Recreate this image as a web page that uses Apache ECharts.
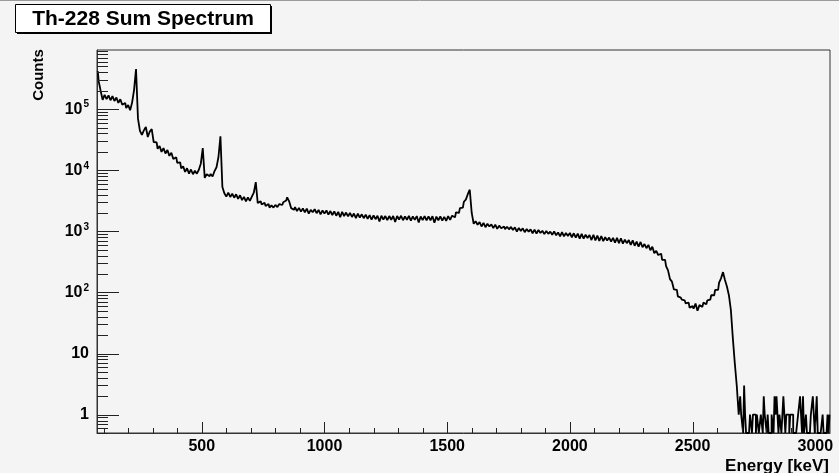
<!DOCTYPE html>
<html>
<head>
<meta charset="utf-8">
<script src="https://cdn.jsdelivr.net/npm/echarts@6/dist/echarts.min.js"></script>
<style>html,body{margin:0;padding:0;background:#f4f4f4;}#chart{width:839px;height:473px;}</style>
</head>
<body>
<div id="chart"></div>
<script>
// ---- Data ----
const titleText = 'Th-228 Sum Spectrum';
const xTitle = 'Energy [keV]';
const yTitle = 'Counts';

// Main spectrum: 8 keV bins, first bin centre 76 keV
const mainStart = 76;
const mainWidth = 8;
const mainCounts = [
  /* 76 */ 420000, 285000, 198000, 142000, 172000, 146000, 168000, 140000, 163000, 136000,
  /* 156 */ 155000, 127000, 145000, 118000, 126000, 104000, 117000, 96000, 128000, 205000,
  /* 236 */ 455000, 70000, 44000, 38000, 45000, 51000, 35000, 43000, 47000, 29000,
  /* 316 */ 28500, 22500, 25000, 20000, 23000, 18800, 21500, 17200, 19300, 15300,
  /* 396 */ 16300, 13200, 13500, 10700, 11600, 9400, 10800, 8800, 10300, 8600,
  /* 476 */ 9800, 8800, 10200, 12800, 23000, 7500, 8600, 8000, 8700, 7900,
  /* 556 */ 9700, 11200, 16500, 36000, 5300, 4200, 3700, 4300, 3650, 4150,
  /* 636 */ 3550, 4050, 3400, 3900, 3250, 3650, 3100, 3600, 3150, 3700,
  /* 716 */ 4300, 6400, 2900, 3100, 2750, 2950, 2600, 2800, 2450, 2650,
  /* 796 */ 2450, 2700, 2500, 2800, 2700, 3000, 3200, 3600, 3100, 2400,
  /* 876 */ 2250, 2500, 2150, 2420, 2100, 2380, 2050, 2350, 1950, 2250,
  /* 956 */ 2050, 2300, 1980, 2250, 1900, 2200, 1950, 2200, 1880, 2150,
  /* 1036 */ 1850, 2120, 1800, 2080, 1700, 2080, 1780, 2030, 1760, 2000,
  /* 1116 */ 1720, 1960, 1650, 1950, 1680, 1900, 1640, 1880, 1600, 1840,
  /* 1196 */ 1560, 1820, 1580, 1800, 1450, 1800, 1560, 1780, 1520, 1780,
  /* 1276 */ 1550, 1780, 1420, 1780, 1560, 1800, 1520, 1760, 1550, 1790,
  /* 1356 */ 1500, 1760, 1540, 1780, 1400, 1750, 1530, 1770, 1510, 1760,
  /* 1436 */ 1520, 1770, 1380, 1740, 1520, 1760, 1500, 1730, 1480, 1770,
  /* 1516 */ 1540, 1800, 1700, 2050, 2000, 2400, 2450, 3050, 3300, 4050,
  /* 1596 */ 4800, 2000, 1330, 1460, 1280, 1420, 1200, 1380, 1170, 1330,
  /* 1676 */ 1200, 1300, 1130, 1290, 1100, 1240, 1120, 1200, 1090, 1190,
  /* 1756 */ 1080, 1180, 1050, 1160, 990, 1140, 1010, 1120, 970, 1090,
  /* 1836 */ 990, 1080, 930, 1070, 920, 1050, 940, 1020, 900, 1010,
  /* 1916 */ 910, 990, 880, 1000, 860, 960, 830, 970, 830, 940,
  /* 1996 */ 840, 940, 800, 930, 790, 920, 760, 910, 760, 880,
  /* 2076 */ 780, 870, 720, 880, 710, 850, 700, 840, 690, 800,
  /* 2156 */ 710, 790, 680, 780, 650, 780, 640, 770, 630, 730,
  /* 2236 */ 640, 720, 600, 710, 580, 680, 560, 670, 550, 620,
  /* 2316 */ 530, 600, 490, 560, 440, 480, 410, 430, 340, 340,
  /* 2396 */ 270, 230, 165, 150, 112, 110, 86, 82, 76, 74,
  /* 2476 */ 66, 68, 56, 60, 54, 66, 50, 62, 58, 68,
  /* 2556 */ 64, 74, 76, 90, 90, 110, 110, 145, 170, 215,
  /* 2636 */ 160, 125, 90, 52, 18, 7, 3
];

// Tail above the 2614 keV edge: 4 keV bins, first bin centre 2692 keV
const tailStart = 2692;
const tailWidth = 4;
const tailCounts = [
  1, 2, 1, 1, 0, 3, 1, 0, 0, 0,
  0, 1, 1, 0, 1, 1, 1, 0, 1, 1,
  0, 0, 1, 1, 0, 2, 1, 1, 0, 1,
  0, 0, 0, 1, 1, 0, 2, 1, 2, 1,
  0, 1, 1, 0, 1, 2, 1, 0, 1, 1,
  1, 0, 1, 1, 1, 0, 0, 0, 0, 0,
  1, 1, 2, 1, 0, 2, 0, 0, 1, 0,
  0, 0, 0, 1, 1, 2, 1, 0, 1, 2,
  0, 0, 0, 0, 0, 1, 0, 0, 0, 0,
  1, 0, 1
];

// Axis ranges and ticks
const xMin = 73, xMax = 3060;
const yMin = 0.5, yMax = 930000;
const xMajorTicks = [500, 1000, 1500, 2000, 2500, 3000];
const xMinorTicks = [100, 200, 300, 400, 600, 700, 800, 900, 1100, 1200, 1300, 1400, 1600, 1700, 1800, 1900,
  2100, 2200, 2300, 2400, 2600, 2700, 2800, 2900];
const yMajorTicks = [1, 10, 100, 1000, 10000, 100000];
const yMinorTicks = [0.5, 0.6, 0.7, 0.8, 0.9,
  2, 3, 4, 5, 6, 7, 8, 9,
  20, 30, 40, 50, 60, 70, 80, 90,
  200, 300, 400, 500, 600, 700, 800, 900,
  2000, 3000, 4000, 5000, 6000, 7000, 8000, 9000,
  20000, 30000, 40000, 50000, 60000, 70000, 80000, 90000,
  200000, 300000, 400000, 500000, 600000, 700000, 800000, 900000];

// ---- Build series data ----
const spectrum = [];
mainCounts.forEach((c, i) => spectrum.push([mainStart + i * mainWidth, Math.max(c, yMin)]));
tailCounts.forEach((c, i) => spectrum.push([tailStart + i * tailWidth, Math.max(c, yMin)]));

const tickColor = '#222';
function xTickSeries(ticks, len) {
  return {
    type: 'custom', silent: true, clip: false, z: 5,
    data: ticks.map(v => [v, yMin]),
    encode: { x: 0, y: 1 },
    renderItem: (params, api) => {
      const p = api.coord([api.value(0), yMin]);
      const x = Math.round(p[0]) + 0.5;
      return { type: 'line', shape: { x1: x, y1: p[1], x2: x, y2: p[1] - len },
        style: { stroke: tickColor, lineWidth: 1 } };
    }
  };
}
function yTickSeries(ticks, len) {
  return {
    type: 'custom', silent: true, clip: false, z: 5,
    data: ticks.map(v => [xMin, v]),
    encode: { x: 0, y: 1 },
    renderItem: (params, api) => {
      const p = api.coord([xMin, api.value(1)]);
      const y = Math.round(p[1]) + 0.5;
      return { type: 'line', shape: { x1: p[0], y1: y, x2: p[0] + len, y2: y },
        style: { stroke: tickColor, lineWidth: 1 } };
    }
  };
}

const chart = echarts.init(document.getElementById('chart'), null, { renderer: 'canvas' });
chart.setOption({
  animation: false,
  backgroundColor: '#f4f4f4',
  grid: { left: 97, right: 9, top: 50, bottom: 40, show: true, borderColor: '#333', borderWidth: 1, backgroundColor: 'transparent' },
  xAxis: {
    type: 'value', min: xMin, max: xMax, splitNumber: 6,
    axisLine: { show: true, lineStyle: { color: '#333', width: 1 } },
    axisTick: { show: false }, splitLine: { show: false },
    axisLabel: {
      color: '#000', fontFamily: 'Liberation Sans, Arial, sans-serif', fontWeight: 'bold', fontSize: 16, margin: 6,
      formatter: v => (xMajorTicks.indexOf(Math.round(v)) >= 0 && Math.abs(v - Math.round(v)) < 1e-6) ? String(Math.round(v)) : ''
    }
  },
  yAxis: {
    type: 'log', logBase: 10, min: yMin, max: yMax,
    axisLine: { show: true, lineStyle: { color: '#333', width: 1 } },
    axisTick: { show: false }, splitLine: { show: false },
    axisLabel: {
      color: '#000', fontFamily: 'Liberation Sans, Arial, sans-serif', fontWeight: 'bold', fontSize: 16, margin: 8,
      formatter: v => {
        const e = Math.log10(v), r = Math.round(e);
        if (Math.abs(e - r) > 1e-6) return '';
        if (r === 0) return '1';
        if (r === 1) return '10';
        return '10{sup|' + r + '}';
      },
      rich: { sup: { fontSize: 10, fontWeight: 'bold', fontFamily: 'Liberation Sans, Arial, sans-serif', color: '#000', padding: [0, 0, 9, 1] } }
    }
  },
  series: [
    {
      type: 'line', data: spectrum, step: 'middle', showSymbol: false, symbol: 'none',
      lineStyle: { color: '#000', width: 1.8 }, silent: true, z: 3
    },
    xTickSeries(xMajorTicks, 11),
    xTickSeries(xMinorTicks, 5),
    yTickSeries(yMajorTicks, 22),
    yTickSeries(yMinorTicks, 11)
  ],
  graphic: [
    { type: 'line', shape: { x1: 0, y1: 0.5, x2: 839, y2: 0.5 }, style: { stroke: '#9a9a9a', lineWidth: 1 }, silent: true },
    { type: 'rect', shape: { x: 17, y: 6, width: 255, height: 28 }, style: { fill: '#000' }, silent: true },
    { type: 'rect', shape: { x: 15.5, y: 4.5, width: 255, height: 28 }, style: { fill: '#ffffff', stroke: '#000', lineWidth: 1 }, silent: true },
    { type: 'text', x: 143, y: 19, style: { text: titleText, fill: '#000', font: 'bold 21px "Liberation Sans", Arial, sans-serif', textAlign: 'center', textVerticalAlign: 'middle' }, silent: true },
    { type: 'text', x: 39, y: 75, rotation: Math.PI / 2, style: { text: yTitle, fill: '#000', font: 'bold 15px "Liberation Sans", Arial, sans-serif', textAlign: 'center', textVerticalAlign: 'middle' }, silent: true },
    { type: 'text', x: 829, y: 466, style: { text: xTitle, fill: '#000', font: 'bold 17px "Liberation Sans", Arial, sans-serif', textAlign: 'right', textVerticalAlign: 'middle' }, silent: true }
  ]
});
</script>
</body>
</html>
